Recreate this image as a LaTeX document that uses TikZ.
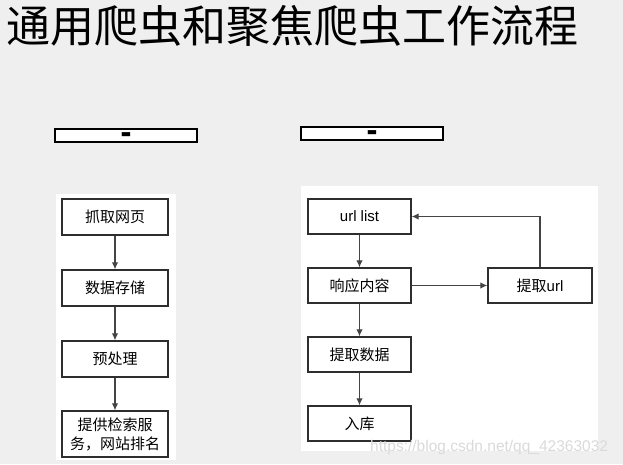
\documentclass[tikz,border=0pt]{standalone}
\usepackage{fontspec}
\setmainfont{Liberation Sans}
\newfontfamily\cjkfont{Noto Sans CJK SC}
\newfontfamily\symfont{DejaVu Sans}
\usetikzlibrary{arrows.meta}
\definecolor{crawlInk}{HTML}{2E2E2E}
\definecolor{crawlGray}{HTML}{444444}
\definecolor{crawlBack}{HTML}{EFEFEF}
\definecolor{crawlMark}{HTML}{DADADA}

\begin{document}
\begin{tikzpicture}[
    x=1pt, y=-1pt,
    crawl panel/.style={fill=white, draw=none},
    crawl bar/.style={draw=black, line width=1.2pt, fill=white, minimum width=142pt, minimum height=13pt, inner sep=0pt, font=\symfont\fontsize{11}{11}\selectfont},
    crawl box/.style={draw=crawlInk, line width=1.3pt, fill=white, inner sep=0pt, align=center, font=\cjkfont\fontsize{15}{19}\selectfont},
    crawl flow/.style={draw=crawlGray, line width=1.2pt, -{Latex[length=7pt,width=6.5pt]}},
    crawl title/.style={inner sep=0pt, font=\cjkfont\fontsize{44}{44}\selectfont},
]

  % Fundo.
  \useasboundingbox (0,0) rectangle (623,464);
  \fill[crawlBack] (0,0) rectangle (623,464);
  \fill[crawl panel] (56,194) rectangle (176,460);
  \fill[crawl panel] (301,186) rectangle (598,451);

  % Titulo e barras.
  \node[crawl title, anchor=base west] (title) at (6,42) {通用爬虫和聚焦爬虫工作流程};
  \node[crawl bar] (bar-g) at (126,135.5) {▬};
  \node[crawl bar] (bar-f) at (372,133.5) {▬};

  % Caixas, crawler geral.
  \node[crawl box, minimum width=106pt, minimum height=36pt] (g-fetch) at (115,217) {抓取网页};
  \node[crawl box, minimum width=106pt, minimum height=36pt] (g-store) at (115,288) {数据存储};
  \node[crawl box, minimum width=106pt, minimum height=36pt] (g-prep) at (115,359) {预处理};
  \node[crawl box, minimum width=106pt, minimum height=46pt] (g-serve) at (115,434) {提供检索服\\务，网站排名};

  % Caixas, crawler focado.
  \node[crawl box, minimum width=103pt, minimum height=35pt] (f-list) at (359.5,216.5) {\rmfamily url list};
  \node[crawl box, minimum width=103pt, minimum height=35pt] (f-resp) at (359.5,285.5) {响应内容};
  \node[crawl box, minimum width=103pt, minimum height=35pt] (f-data) at (359.5,354.5) {提取数据};
  \node[crawl box, minimum width=103pt, minimum height=35pt] (f-save) at (359.5,423.5) {入库};
  \node[crawl box, minimum width=104pt, minimum height=35pt] (f-url) at (540,285.5) {提取{\rmfamily url}};

  % Setas.
  \draw[crawl flow] (g-fetch) -- (g-store);
  \draw[crawl flow] (g-store) -- (g-prep);
  \draw[crawl flow] (g-prep) -- (g-serve);
  \draw[crawl flow] (f-list) -- (f-resp);
  \draw[crawl flow] (f-resp) -- (f-data);
  \draw[crawl flow] (f-data) -- (f-save);
  \draw[crawl flow] (f-resp) -- (f-url);
  \draw[crawl flow] (f-url.north) |- (f-list.east);

  % Marca.
  \node[text=crawlMark, anchor=base west, inner sep=0pt, font=\fontsize{15.5}{15.5}\selectfont] (mark) at (370,451) {https://blog.csdn.net/qq\_42363032};
\end{tikzpicture}
\end{document}
